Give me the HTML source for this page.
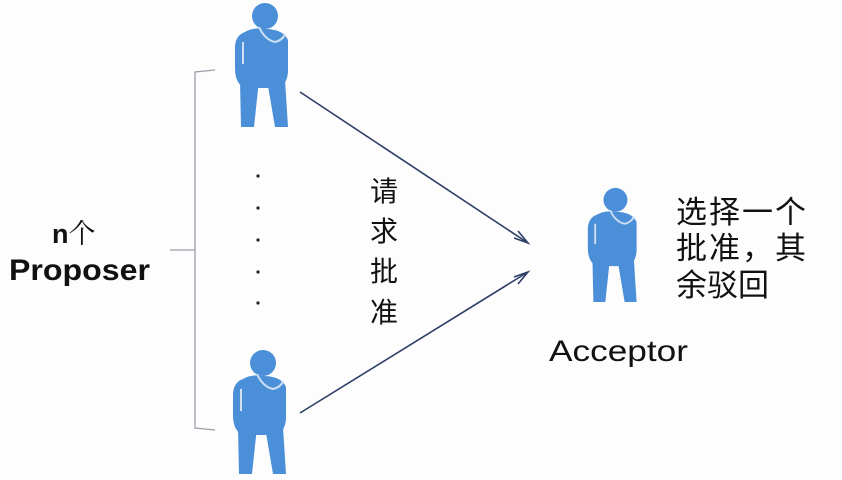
<!DOCTYPE html>
<html><head><meta charset="utf-8"><style>
html,body{margin:0;padding:0;background:#fdfdfe;}
svg{display:block}
text{font-family:"Liberation Sans","Noto Sans CJK SC",sans-serif;fill:#111}
.cj{font-family:"Noto Serif CJK SC","Noto Sans CJK SC",serif;}
</style></head><body>
<svg width="842" height="480" viewBox="0 0 842 480" xmlns="http://www.w3.org/2000/svg">
<defs>
<g id="p">
  <circle cx="32" cy="14" r="13" fill="#4a8fd8"/>
  <path d="M12 30 Q20 25 32 27 Q50 27 55 38 L55 70 Q54 82 46 86 L12 86 Q2 82 2 66 L2 44 Q3 33 12 30Z" fill="#4a8fd8"/>
  <path d="M7 78 L26 78 L21 125 L8 125Z" fill="#4a8fd8"/>
  <path d="M34 78 L52 78 L55 125 L42 125Z" fill="#4a8fd8"/>
  <path d="M26 25 Q32 38 42 40 Q50 38 52 32" stroke="#cfe0f4" stroke-width="2" fill="none"/>
  <path d="M10 40 L10 62" stroke="#cfe0f4" stroke-width="2"/>
</g>
</defs>
<use href="#p" x="233" y="2"/>
<use href="#p" x="231" y="349"/>
<g transform="translate(586,187) scale(0.92)"><use href="#p"/></g>
<path d="M215 70 L195 72 L195 428 L215 430 M195 250 L170 250" stroke="#9aa0a8" stroke-width="1.3" fill="none"/>
<g fill="#222"><circle cx="258" cy="176" r="1.6"/><circle cx="258" cy="208" r="1.6"/><circle cx="258" cy="240" r="1.6"/><circle cx="258" cy="272" r="1.6"/><circle cx="258" cy="303" r="1.6"/></g>
<g stroke="#2f3f66" stroke-width="1.6" fill="none">
<path d="M300 92 L528 243"/><path d="M514 238 L528 243 L518 231"/>
<path d="M300 413 L528 272"/><path d="M518 284 L528 272 L514 277"/>
</g>
<g class="cj" font-size="28">
<text x="370" y="201">请</text><text x="370" y="241">求</text><text x="370" y="281">批</text><text x="370" y="322">准</text>
</g>
<text x="52" y="243" font-size="27" font-weight="bold">n<tspan class="cj" font-weight="normal">个</tspan></text>
<text x="9" y="280" font-size="30" font-weight="bold" textLength="141" lengthAdjust="spacingAndGlyphs">Proposer</text>
<text x="549" y="361" font-size="30" textLength="139" lengthAdjust="spacingAndGlyphs">Acceptor</text>
<g class="cj" font-size="31">
<text x="676" y="223" textLength="130">选择一个</text>
<text x="676" y="259" textLength="130">批准，其</text>
<text x="676" y="296">余驳回</text>
</g>
</svg>
</body></html>
